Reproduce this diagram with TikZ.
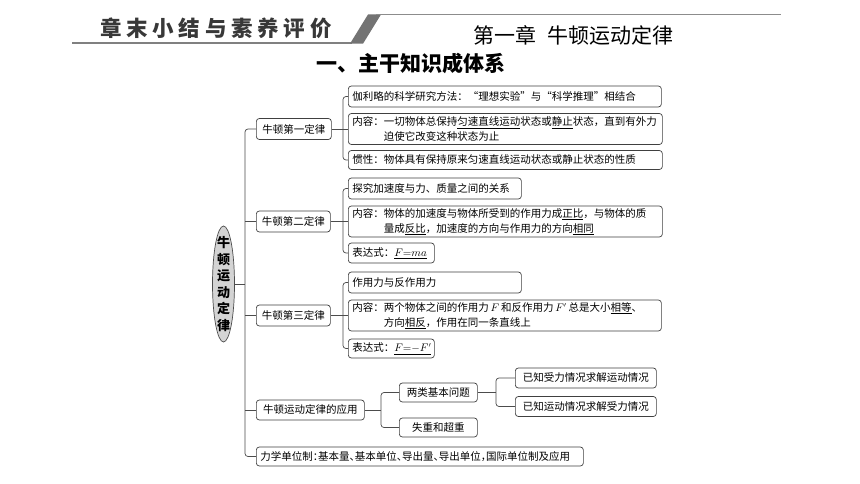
\documentclass[tikz,border=0pt]{standalone}
\usepackage{fontspec}
\newfontfamily\cjk{Noto Sans CJK SC}
\usetikzlibrary{shapes.geometric}
\begin{document}
\begin{tikzpicture}[x=1pt,y=-1pt,
  box/.style={draw=black!75, line width=0.7pt, rounded corners=3pt, fill=white,
    font=\cjk\fontsize{10.5}{15}\selectfont, inner xsep=4pt, inner ysep=0pt,
    anchor=west, align=left},
  cbox/.style={box, align=center},
  conn/.style={draw=black!70, line width=0.7pt, rounded corners=3pt},
]
\fill[white] (0,0) rectangle (860,484);
\useasboundingbox (0,0) rectangle (860,484);

% header
\draw[black!50, line width=1.5pt] (72,43) -- (352,43);
\fill[black!55] (350,43.7) -- (363,43.7) -- (381,14.5) -- (368,14.5) -- cycle;
\draw[black!45, line width=1pt] (376,15) -- (781,15);
\node[font=\cjk\bfseries\addfontfeatures{LetterSpace=22}\fontsize{21.5}{24}\selectfont,
  text=black!78, anchor=west, inner sep=0pt] (hdr) at (100,28) {章末小结与素养评价};
\node[font=\cjk\fontsize{21}{24}\selectfont, anchor=west, inner sep=0pt] (chap) at (473,35)
  {第一章\hspace{0.55em}牛顿运动定律};
\node[font=\cjk\bfseries\fontsize{21}{24}\selectfont, inner sep=0pt] (sec) at (411,63)
  {一、主干知识成体系};

% root
\node[draw=black!70, fill=black!17, ellipse, minimum width=22pt, minimum height=116pt,
  inner sep=0pt, line width=0.7pt] (root) at (223.5,284) {};
\node[font=\cjk\bfseries\fontsize{13}{16.5}\selectfont, align=center, inner sep=0pt]
  (roottxt) at (root.center) {牛\\顿\\运\\动\\定\\律};

% level 1
\node[cbox, text width=67pt, minimum height=21pt] (n1) at (256,129) {牛顿第一定律};
\node[cbox, text width=66pt, minimum height=21pt] (n2) at (256,221.5) {牛顿第二定律};
\node[cbox, text width=66pt, minimum height=21pt] (n3) at (256,315.5) {牛顿第三定律};
\node[cbox, text width=100pt, minimum height=20pt] (n4) at (256,410) {牛顿运动定律的应用};
\node[box, text width=319pt, minimum height=19pt] (n5) at (256,456.5)
  {\addfontfeatures{RawFeature=+halt}力学单位制：基本量、基本单位、导出量、导出单位，国际单位制及应用};

% first law
\node[box, text width=305pt, minimum height=21pt] (a1) at (348,96.5)
  {伽利略的科学研究方法：“理想实验”与“科学推理”相结合};
\node[box, text width=306pt, minimum height=31pt] (a2) at (348,129)
  {内容：一切物体总保持\underline{匀速直线运动}状态或\underline{静止}状态，直到有外力\\\hspace*{3em}迫使它改变这种状态为止};
\node[box, text width=306pt, minimum height=19pt] (a3) at (348,160)
  {惯性：物体具有保持原来匀速直线运动状态或静止状态的性质};

% second law
\node[box, text width=165pt, minimum height=21pt] (b1) at (348,188.5) {探究加速度与力、质量之间的关系};
\node[box, text width=306pt, minimum height=31pt] (b2) at (348,221.5)
  {内容：物体的加速度与物体所受到的作用力成\underline{正比}，与物体的质\\\hspace*{3em}量成\underline{反比}，加速度的方向与作用力的方向\underline{相同}};
\node[box, text width=78pt, minimum height=20pt] (b3) at (348,253) {表达式：\underline{$F{=}ma$}};

% third law
\node[box, text width=165pt, minimum height=21pt] (c1) at (348,282.5) {作用力与反作用力};
\node[box, text width=305pt, minimum height=31pt] (c2) at (348,315.5)
  {内容：两个物体之间的作用力$\,F\,$和反作用力$\,F'\,$总是大小\underline{相等}、\\\hspace*{3em}方向\underline{相反}，作用在同一条直线上};
\node[box, text width=78pt, minimum height=19pt] (c3) at (348,348.5) {表达式：\underline{$F{=}{-}F'$}};

% application
\node[cbox, text width=70pt, minimum height=19pt] (d1) at (399,392.5) {两类基本问题};
\node[cbox, text width=70pt, minimum height=19pt] (d2) at (399,427.5) {失重和超重};
\node[cbox, text width=133pt, minimum height=20pt] (e1) at (515,378) {已知受力情况求解运动情况};
\node[cbox, text width=133pt, minimum height=20pt] (e2) at (515,406.5) {已知运动情况求解受力情况};

% connectors
\coordinate (tx) at (245,0);
\draw[conn] (n1.west) -- (n1.west -| tx) -- (n5.west -| tx) -- (n5.west);
\draw[conn] (root.east) -- (root.east -| tx);
\foreach \n in {n2,n3,n4} \draw[conn] (\n.west) -- (\n.west -| tx);

\coordinate (bx1) at (343,0);
\draw[conn] (a1.west) -- (a1.west -| bx1) -- (a3.west -| bx1) -- (a3.west);
\draw[conn] (n1.east) -- (a2.west);
\draw[conn] (b1.west) -- (b1.west -| bx1) -- (b3.west -| bx1) -- (b3.west);
\draw[conn] (n2.east) -- (b2.west);
\draw[conn] (c1.west) -- (c1.west -| bx1) -- (c3.west -| bx1) -- (c3.west);
\draw[conn] (n3.east) -- (c2.west);

\coordinate (bx4) at (381,0);
\draw[conn] (d1.west) -- (d1.west -| bx4) -- (d2.west -| bx4) -- (d2.west);
\draw[conn] (n4.east) -- (n4.east -| bx4);
\coordinate (bx5) at (496,0);
\draw[conn] (e1.west) -- (e1.west -| bx5) -- (e2.west -| bx5) -- (e2.west);
\draw[conn] (d1.east) -- (d1.east -| bx5);
\end{tikzpicture}
\end{document}
